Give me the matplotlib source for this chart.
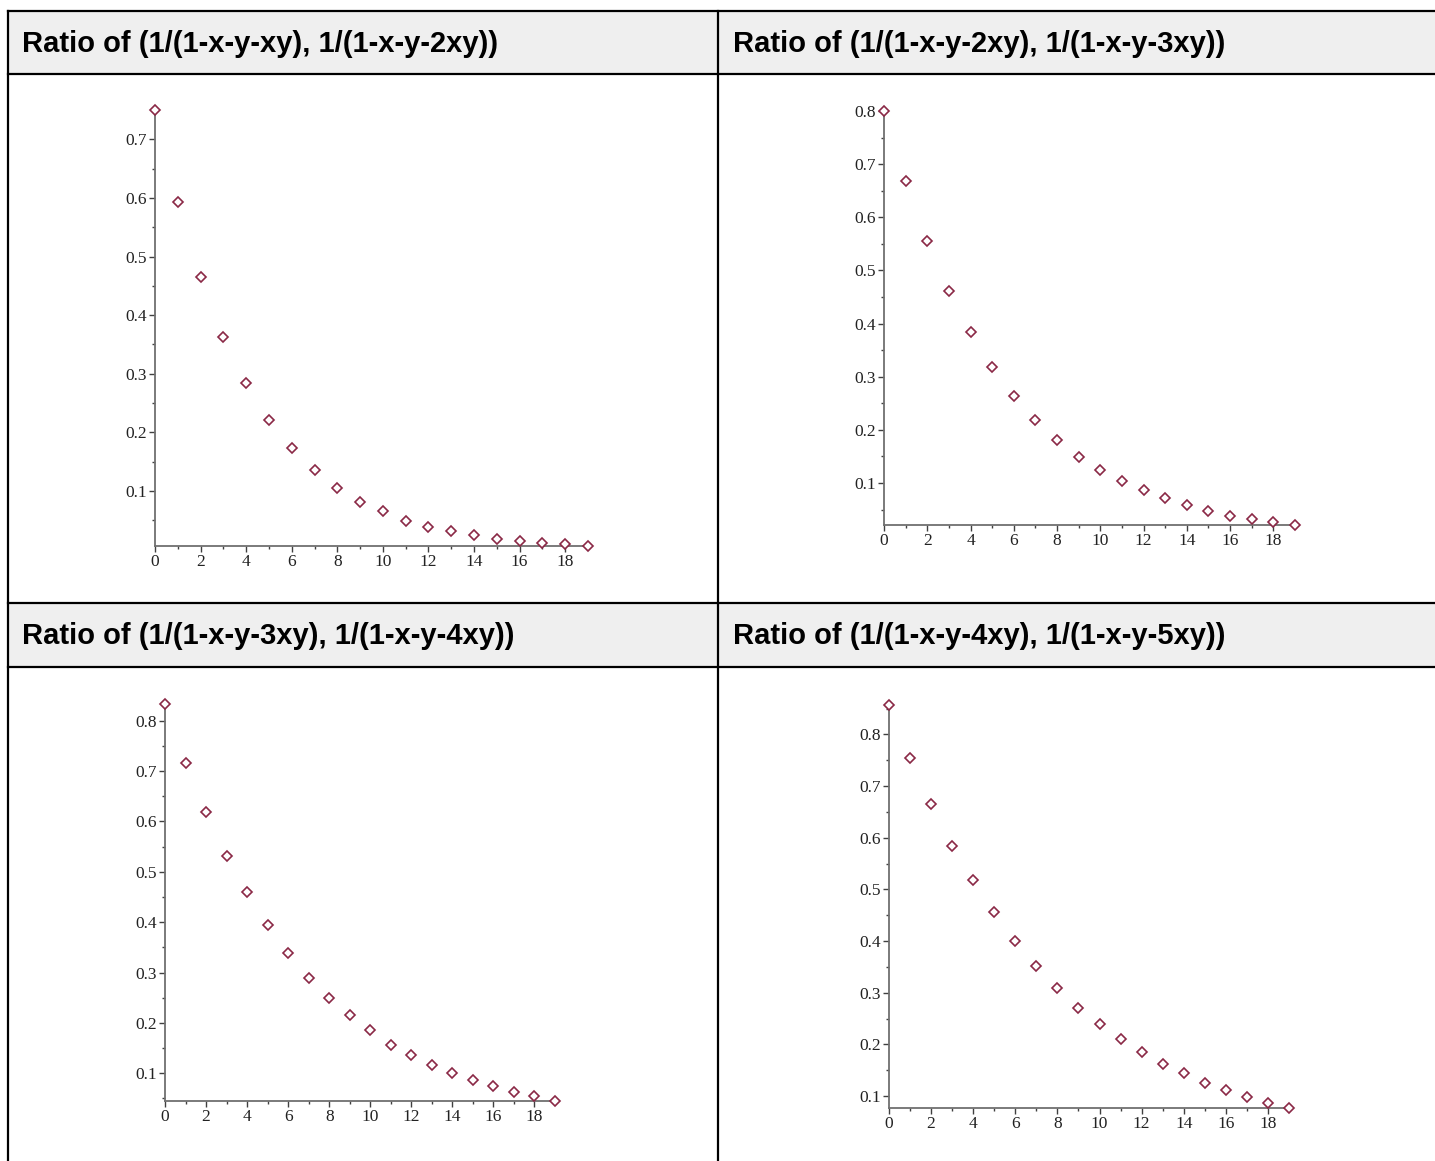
import matplotlib
matplotlib.use("Agg")
import matplotlib.pyplot as plt
from matplotlib.patches import Rectangle
from matplotlib.lines import Line2D
from matplotlib.ticker import MultipleLocator, FormatStrFormatter

W, H = 1435, 1161

titles = ["Ratio of (1/(1-x-y-xy), 1/(1-x-y-2xy))",
          "Ratio of (1/(1-x-y-2xy), 1/(1-x-y-3xy))",
          "Ratio of (1/(1-x-y-3xy), 1/(1-x-y-4xy))",
          "Ratio of (1/(1-x-y-4xy), 1/(1-x-y-5xy))"]

n = list(range(20))
ratio1 = [0.750, 0.593, 0.465, 0.362, 0.284, 0.221, 0.173, 0.136, 0.105, 0.081,
          0.066, 0.049, 0.039, 0.032, 0.025, 0.018, 0.015, 0.011, 0.010, 0.006]
ratio2 = [0.800, 0.668, 0.555, 0.461, 0.384, 0.318, 0.264, 0.219, 0.181, 0.149,
          0.124, 0.104, 0.087, 0.072, 0.059, 0.047, 0.038, 0.032, 0.027, 0.021]
ratio3 = [0.833, 0.715, 0.618, 0.531, 0.460, 0.395, 0.339, 0.290, 0.250, 0.215,
          0.185, 0.157, 0.136, 0.116, 0.100, 0.086, 0.074, 0.063, 0.055, 0.045]
ratio4 = [0.857, 0.754, 0.665, 0.585, 0.518, 0.456, 0.400, 0.352, 0.310, 0.271,
          0.240, 0.211, 0.186, 0.163, 0.144, 0.125, 0.111, 0.098, 0.086, 0.077]
series = [ratio1, ratio2, ratio3, ratio4]

# plot boxes in pixels: (x at n=0, x at n=19, y top, y bottom)
boxes = [(155, 588, 110, 546),
         (884, 1295, 111, 525),
         (165, 555, 704, 1101),
         (889, 1289, 705, 1108)]

fig = plt.figure(figsize=(W / 100, H / 100), dpi=100)

def fx(px):
    return px / W

def fy(py):
    return 1 - py / H

# table: header backgrounds and grid lines
for top, bot in [(11, 74), (603, 667)]:
    fig.add_artist(Rectangle((fx(8), fy(bot)), fx(W - 8), (bot - top) / H,
                             transform=fig.transFigure, facecolor="#efefef",
                             edgecolor="none", zorder=0))
for py in [11, 74, 603, 667]:
    fig.add_artist(Line2D([fx(8), 1], [fy(py), fy(py)], color="black", lw=1.6))
fig.add_artist(Line2D([fx(8), fx(8)], [fy(11), 0], color="black", lw=1.6))
fig.add_artist(Line2D([fx(718), fx(718)], [fy(11), 0], color="black", lw=1.6))

title_pos = [(22, 44), (733, 44), (22, 636), (733, 636)]
for (tx, ty), t in zip(title_pos, titles):
    fig.text(fx(tx), fy(ty), t, fontsize=21, fontweight="bold",
             family="Liberation Sans", va="center", ha="left")

for (x0, x19, ytop, ybot), ys in zip(boxes, series):
    ax = fig.add_axes([fx(x0), fy(ybot), (x19 - x0) / W, (ybot - ytop) / H])
    ax.plot(n, ys, ls="none", marker="D", markersize=4.8, mfc="white",
            mec="#8a2846", mew=1.2, clip_on=False, zorder=3)
    ax.set_xlim(0, 19)
    ax.set_ylim(min(ys), max(ys))
    for s in ["top", "right"]:
        ax.spines[s].set_visible(False)
    for s in ["left", "bottom"]:
        ax.spines[s].set_color("#707070")
        ax.spines[s].set_linewidth(1.3)
    ax.xaxis.set_major_locator(MultipleLocator(2))
    ax.xaxis.set_minor_locator(MultipleLocator(1))
    ax.yaxis.set_major_locator(MultipleLocator(0.1))
    ax.yaxis.set_minor_locator(MultipleLocator(0.05))
    ax.yaxis.set_major_formatter(FormatStrFormatter("%.1f"))
    ax.tick_params(which="major", length=4, width=1, color="#404040",
                   labelsize=12.5, labelcolor="#222222", pad=2)
    ax.tick_params(which="minor", length=2.5, width=1, color="#404040")
    for lab in ax.get_xticklabels() + ax.get_yticklabels():
        lab.set_family("Liberation Serif")
    ax.set_facecolor("none")

fig.savefig("out.png", dpi=100)
